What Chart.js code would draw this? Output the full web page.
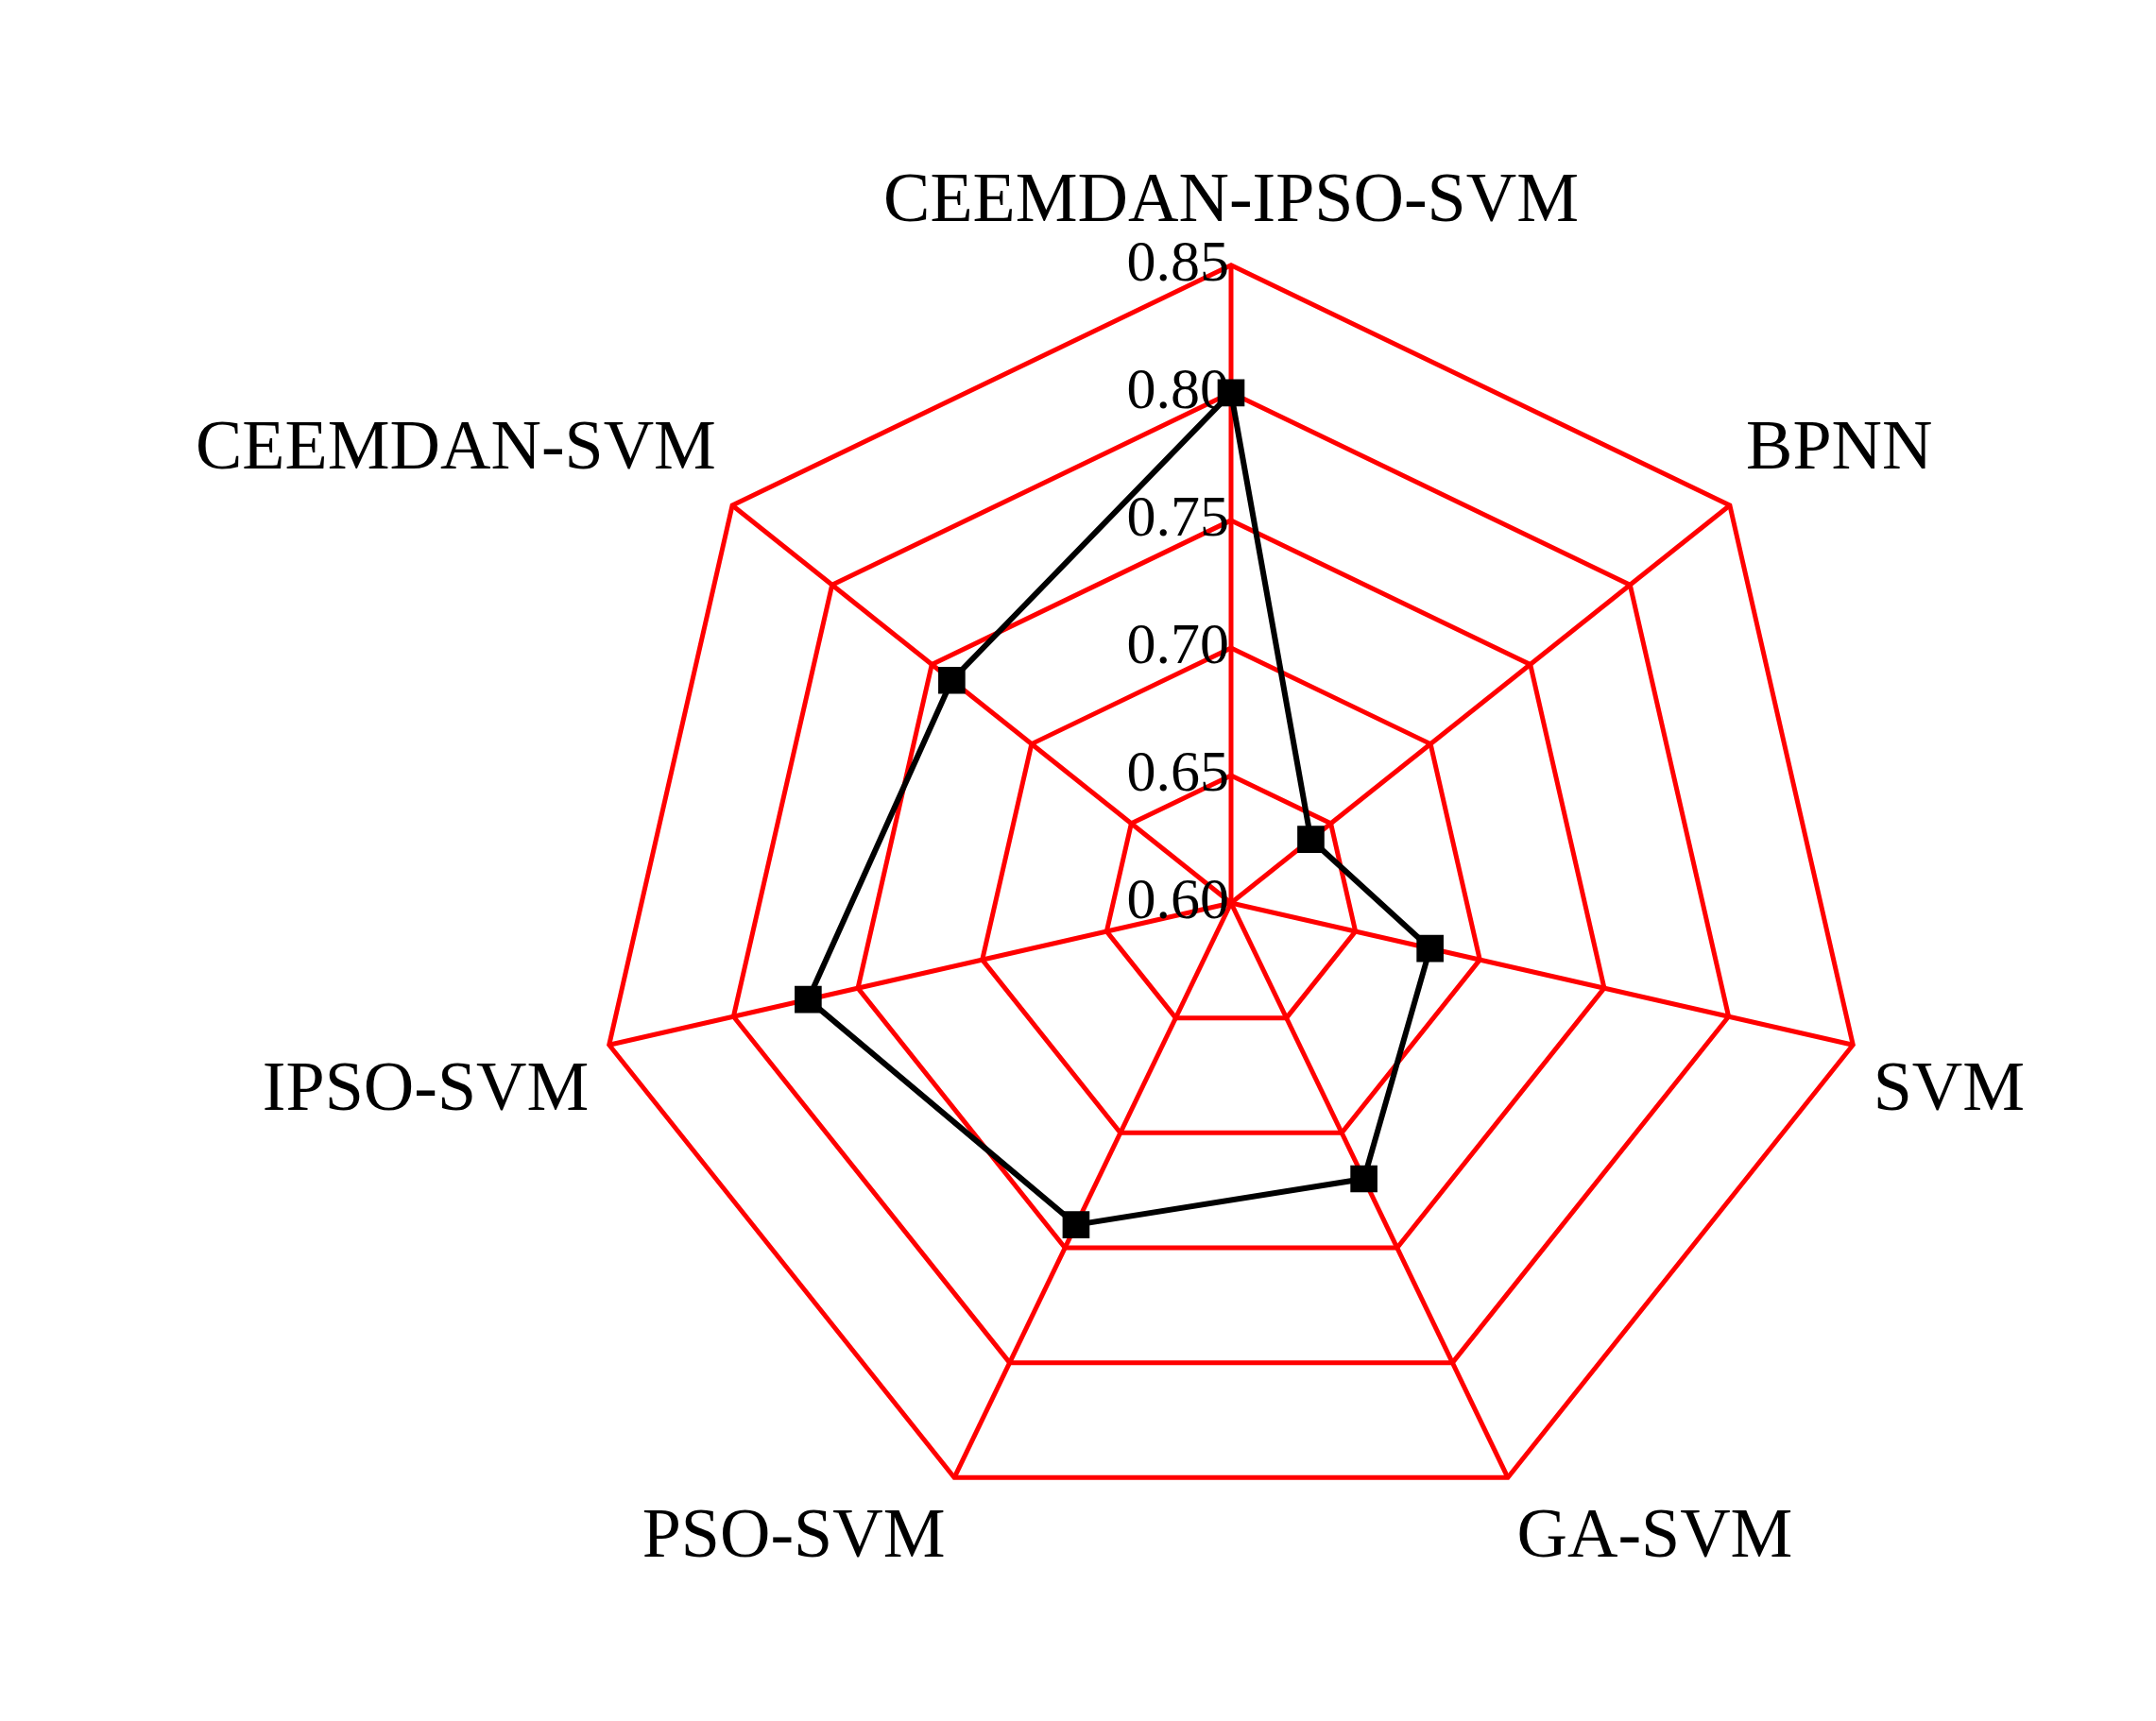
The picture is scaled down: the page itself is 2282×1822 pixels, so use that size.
<!DOCTYPE html>
<html><head><meta charset="utf-8">
<script src="https://cdn.jsdelivr.net/npm/chart.js@4"></script>
<style>html,body{margin:0;padding:0;background:#fff}#w{width:2282px;height:1822px}</style>
</head><body><div id="w"><canvas id="c"></canvas></div>
<script>
const categories = ["CEEMDAN-IPSO-SVM","BPNN","SVM","GA-SVM","PSO-SVM","IPSO-SVM","CEEMDAN-SVM"];
const values = [0.80,0.64,0.68,0.72,0.74,0.77,0.74];
const tickLabels = [0.60,0.65,0.70,0.75,0.80,0.85];

const tickPlugin = {
  id:'ticksLeft',
  afterDatasetsDraw(chart){
    const s = chart.scales.r, ctx = chart.ctx;
    ctx.save();
    ctx.font = '62px "Liberation Serif"';
    ctx.fillStyle = '#000';
    ctx.textAlign = 'right';
    ctx.textBaseline = 'middle';
    tickLabels.forEach(v=>{
      const d = s.getDistanceFromCenterForValue(v);
      ctx.fillText(v.toFixed(2), s.xCenter-2, s.yCenter-d);
    });
    ctx.restore();
  }
};

new Chart(document.getElementById('c'),{
  type:'radar',
  data:{labels:categories,datasets:[{data:values,borderColor:'#000',borderWidth:6,
    pointStyle:'rect',pointRadius:16,pointHoverRadius:16,pointBackgroundColor:'#000',pointBorderColor:'#000',fill:false,tension:0}]},
  options:{responsive:true,maintainAspectRatio:false,animation:false,
    layout:{padding:{top:0,bottom:0,left:90,right:0}},
    plugins:{legend:{display:false},tooltip:{enabled:false}},
    scales:{r:{min:0.60,max:0.85,
      ticks:{display:false,stepSize:0.05},
      grid:{color:'#ff0000',lineWidth:5},
      angleLines:{color:'#ff0000',lineWidth:5},
      pointLabels:{color:'#000',font:{family:'Liberation Serif',size:74},padding:22}
    }}},
  plugins:[tickPlugin]
});
</script></body></html>
